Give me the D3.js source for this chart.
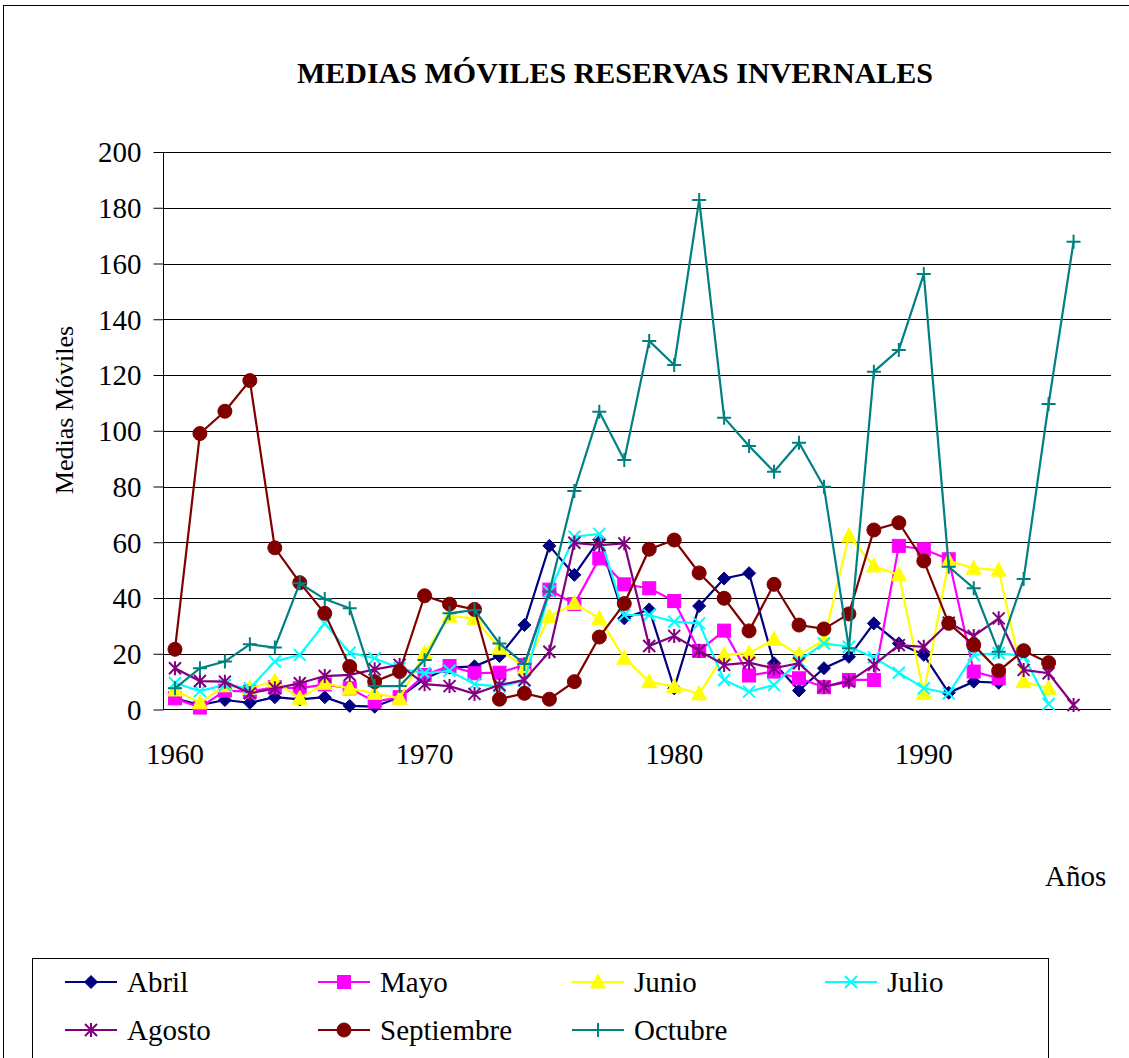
<!DOCTYPE html>
<html><head><meta charset="utf-8">
<script src="https://cdn.jsdelivr.net/npm/d3@7"></script>
<style>body{margin:0;background:#fff}svg{display:block}text{font-family:"Liberation Serif","Times New Roman",serif}</style>
</head><body><svg id="c" width="1129" height="1058"></svg>
<script>
const years = d3.range(1960, 1998);
const yTicks = [0,20,40,60,80,100,120,140,160,180,200];
const xTickLabels = [1960, 1970, 1980, 1990];
const seriesNames = ["Abril","Mayo","Junio","Julio","Agosto","Septiembre","Octubre"];
const abril = [4,1.6,3.4,2.4,4.4,3.6,4.4,1.3,1,4.5,11,15,15.5,19.2,30.3,58.7,48.3,61,32.7,35.9,7.6,37.1,47,48.9,16.6,6.8,14.8,18.9,30.9,23.7,19.6,6,10,9.6,null,null,null,null];
const mayo = [4,0.7,6.8,6.4,8,7.6,9,7.6,2.8,4.4,12.4,15.6,13,13.2,16,43,37.8,54.2,44.9,43.5,38.9,21,28.3,12.2,13.6,11.2,8,10.6,10.6,58.7,57.5,53.9,13.6,11.2,null,null,null,null];
const junio = [7,2.4,8.5,7.6,10.2,4,9.4,7.6,5.8,4,20.2,33.5,32.7,22,14.8,33.3,38.1,32.7,18.4,10,8.2,5.6,19.6,20.2,25.2,19.6,24.9,62.2,51.5,48.3,5.8,53.3,50.7,50,10,7.6,null,null];
const julio = [9.5,6.6,8.8,7.6,17.2,19.6,30.9,20.4,18.4,14.8,13,13.9,9.1,8.2,10.3,42.3,62,63,33.9,33.9,31.5,30.9,10.6,6.4,8.8,17.5,23.7,22.5,18.7,13.2,7.6,5.8,19.6,20.2,19.2,2,null,null];
const agosto = [14.8,10.2,10,5.8,7.6,9.4,12,12.4,14.4,16,9.1,8.4,5.6,8.8,10.6,20.7,59.8,59,59.6,22.8,26.4,21.1,16,16.8,14.8,16.6,8.2,10,16,23.1,22.5,31.1,26.4,32.7,14.2,13,1.6,null];
const septiembre = [21.6,99,107,118,58,45.5,34.5,15.4,10,13.6,40.8,37.8,35.9,3.7,5.8,3.7,10,26,38,57.5,60.8,49,39.9,28.2,44.9,30.3,28.9,34.3,64.4,67,53.3,30.9,23.1,13.9,21.1,16.8,null,null];
const octubre = [7.6,14.8,17.2,23.4,22.2,45.3,39.6,36.3,8.4,8.4,17.8,34.5,35.7,23.7,16.3,42.3,78.4,106.8,89.5,132.2,123.6,182.8,104.7,94.5,85.3,95.7,79.9,22,121.2,129,156.2,51.2,43.5,20.7,46.8,109.6,167.8,null];
const seriesValues = [abril, mayo, junio, julio, agosto, septiembre, octubre];
const colors = ["#000080","#FF00FF","#FFFF00","#00FFFF","#800080","#800000","#008080"];
const markers = ["diamond","square","triangle","x","star","circle","plus"];

const svg = d3.select("#c");
svg.append("rect").attr("x",3.5).attr("y",5.5).attr("width",1300).attr("height",1300)
  .attr("fill","#fff").attr("stroke","#000").attr("stroke-width",1);

const x = d3.scaleBand().domain(years).range([162.5, 1111]).paddingInner(0).paddingOuter(0);
const y = d3.scaleLinear().domain([0,200]).range([709.5, 152]);
const cx = d => x(d) + x.bandwidth()/2;

svg.append("g").selectAll("line").data(yTicks.filter(t=>t>0)).join("line")
  .attr("x1",163).attr("x2",1111).attr("y1",d=>Math.round(y(d))+0.5).attr("y2",d=>Math.round(y(d))+0.5)
  .attr("stroke","#000").attr("stroke-width",1);

const yAxis = d3.axisLeft(y).tickValues(yTicks).tickSize(10).tickPadding(12).tickFormat(d3.format("d"));
const gy = svg.append("g").attr("transform","translate(163.5,0)").call(yAxis);
gy.select(".domain").attr("stroke","#000").attr("d","M0,152V710");
gy.selectAll(".tick line").attr("stroke","#000");
gy.selectAll(".tick text").attr("font-size",29).attr("fill","#000").style("font-family","Liberation Serif").attr("dy","0.34em");

const xAxis = d3.axisBottom(x).tickValues(xTickLabels).tickSize(0).tickPadding(34);
const gx = svg.append("g").attr("transform","translate(0,709.5)").call(xAxis);
gx.select(".domain").attr("d","M163,0H1111").attr("stroke","#000");
gx.selectAll(".tick text").attr("font-size",29).attr("fill","#000").style("font-family","Liberation Serif");

svg.append("text").attr("x",615).attr("y",83).attr("text-anchor","middle")
  .attr("font-size",30).attr("font-weight","bold").text("MEDIAS MÓVILES RESERVAS INVERNALES");
svg.append("text").attr("transform","translate(73,410) rotate(-90)").attr("text-anchor","middle")
  .attr("font-size",26).text("Medias Móviles");
svg.append("text").attr("x",1045).attr("y",886).attr("font-size",29).text("Años");

function drawMarker(g, type, color) {
  const s = 6.5;
  if (type==="diamond") g.append("path").attr("d",`M0,${-s}L${s},0L0,${s}L${-s},0Z`).attr("fill",color).attr("stroke",color);
  else if (type==="square") g.append("rect").attr("x",-6.5).attr("y",-6.5).attr("width",13).attr("height",13).attr("fill",color).attr("stroke",color);
  else if (type==="triangle") g.append("path").attr("d","M0,-8L7.5,6L-7.5,6Z").attr("fill",color).attr("stroke",color);
  else if (type==="circle") g.append("circle").attr("r",7).attr("fill",color).attr("stroke",color);
  else if (type==="x") g.append("path").attr("d","M-6,-6L6,6M-6,6L6,-6").attr("stroke",color).attr("stroke-width",2).attr("fill","none");
  else if (type==="star") g.append("path").attr("d","M-6,-6L6,6M-6,6L6,-6M0,-7V7").attr("stroke",color).attr("stroke-width",2).attr("fill","none");
  else if (type==="plus") g.append("path").attr("d","M-7,0H7M0,-7V7").attr("stroke",color).attr("stroke-width",2).attr("fill","none");
}

const line = d3.line().defined(d=>d.v!=null).x(d=>cx(d.yr)).y(d=>y(d.v));
seriesNames.forEach((name,i) => {
  const data = years.map((yr,j)=>({yr, v: seriesValues[i][j]}));
  const g = svg.append("g");
  g.append("path").datum(data).attr("d",line).attr("fill","none").attr("stroke",colors[i]).attr("stroke-width",2.2);
  g.selectAll("g.m").data(data.filter(d=>d.v!=null)).join("g").attr("class","m")
    .attr("transform",d=>`translate(${cx(d.yr)},${y(d.v)})`)
    .each(function(){ drawMarker(d3.select(this), markers[i], colors[i]); });
});

svg.append("rect").attr("x",32.5).attr("y",958.5).attr("width",1016).attr("height",200)
  .attr("fill","#fff").attr("stroke","#000");
const legX = [65, 318, 572, 825];
const legY = [982, 1030];
seriesNames.forEach((name,i)=>{
  const col = i<4 ? i : i-4, row = i<4 ? 0 : 1;
  const g = svg.append("g").attr("transform",`translate(${legX[col]},${legY[row]})`);
  g.append("line").attr("x1",0).attr("x2",52).attr("stroke",colors[i]).attr("stroke-width",2.2);
  const mg = g.append("g").attr("transform","translate(26,0)");
  drawMarker(mg, markers[i], colors[i]);
  g.append("text").attr("x",62).attr("y",10).attr("font-size",29).text(name);
});
</script></body></html>
